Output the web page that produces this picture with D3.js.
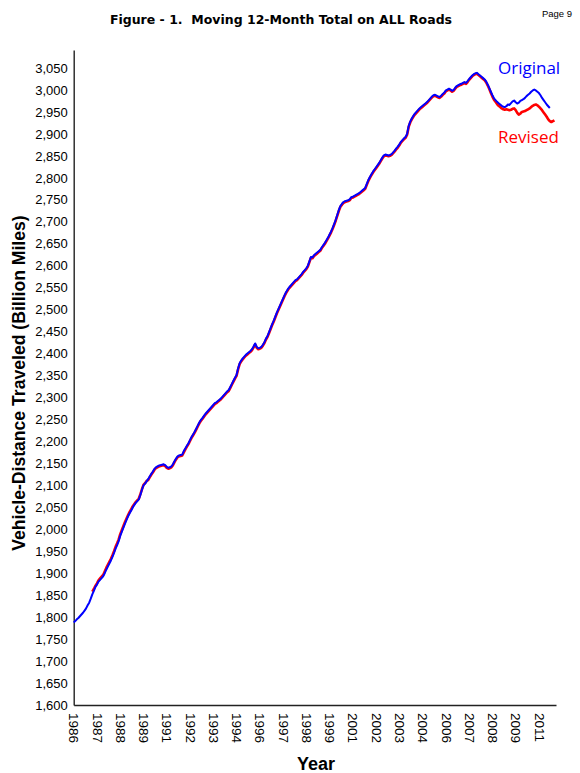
<!DOCTYPE html>
<html lang="en">
<head>
<meta charset="UTF-8">
<title>Figure - 1. Moving 12-Month Total on ALL Roads</title>
<script src="https://d3js.org/d3.v7.min.js"></script>
<style>
  body { margin: 0; background: #fff; }
  svg { display: block; }
  .tick text { font-family: "Liberation Sans", Arial, sans-serif; fill: #000; }
  .domain { stroke: #222; stroke-width: 1.4px; }
</style>
</head>
<body>
<svg id="chart" width="580" height="773"></svg>
<script>
// monthly moving 12-month totals, billion miles, starting Jan 1986
const original = [
  1788, 1791, 1795, 1798, 1802, 1806, 1810, 1815, 1820, 1827, 1833, 1842, // 1986
  1852, 1860, 1869, 1874, 1881, 1885, 1889, 1893, 1900, 1908, 1915, 1922, // 1987
  1929, 1937, 1946, 1956, 1964, 1973, 1985, 1994, 2003, 2012, 2021, 2029, // 1988
  2036, 2042, 2049, 2055, 2060, 2064, 2068, 2078, 2090, 2100, 2104, 2109, // 1989
  2114, 2120, 2126, 2131, 2137, 2141, 2143, 2145, 2146, 2147, 2148, 2146, // 1990
  2142, 2140, 2141, 2143, 2148, 2155, 2161, 2166, 2168, 2169, 2170, 2178, // 1991
  2184, 2190, 2196, 2203, 2210, 2216, 2222, 2229, 2236, 2243, 2249, 2253, // 1992
  2258, 2263, 2267, 2271, 2275, 2279, 2283, 2287, 2289, 2292, 2295, 2298, // 1993
  2302, 2306, 2310, 2314, 2317, 2324, 2331, 2338, 2345, 2351, 2366, 2378, // 1994
  2384, 2389, 2393, 2397, 2400, 2403, 2406, 2410, 2416, 2423, 2415, 2412, // 1995
  2413, 2415, 2420, 2426, 2434, 2440, 2449, 2458, 2467, 2475, 2484, 2493, // 1996
  2501, 2509, 2517, 2525, 2533, 2540, 2546, 2551, 2555, 2559, 2563, 2567, // 1997
  2569, 2573, 2577, 2581, 2586, 2590, 2594, 2600, 2610, 2620, 2619, 2624, // 1998
  2627, 2630, 2633, 2636, 2642, 2647, 2652, 2658, 2664, 2671, 2678, 2686, // 1999
  2695, 2705, 2716, 2727, 2736, 2741, 2745, 2747, 2748, 2749, 2751, 2756, // 2000
  2757, 2759, 2761, 2763, 2765, 2768, 2771, 2774, 2777, 2786, 2795, 2802, // 2001
  2808, 2814, 2819, 2824, 2829, 2834, 2840, 2846, 2851, 2853, 2852, 2851, // 2002
  2852, 2854, 2858, 2862, 2867, 2871, 2876, 2882, 2886, 2890, 2893, 2900, // 2003
  2918, 2928, 2935, 2941, 2946, 2950, 2954, 2958, 2961, 2964, 2967, 2970, // 2004
  2973, 2977, 2981, 2985, 2988, 2989, 2987, 2985, 2984, 2987, 2991, 2994, // 2005
  2999, 3001, 3003, 3001, 2998, 3000, 3005, 3009, 3011, 3013, 3014, 3016, // 2006
  3018, 3016, 3020, 3025, 3029, 3033, 3036, 3038, 3039, 3036, 3033, 3030, // 2007
  3027, 3024, 3019, 3012, 3004, 2996, 2988, 2981, 2977, 2973, 2970, 2967, // 2008
  2964, 2962, 2961, 2963, 2967, 2966, 2970, 2974, 2976, 2972, 2969, 2971, // 2009
  2975, 2977, 2979, 2982, 2986, 2989, 2992, 2996, 2999, 3001, 2999, 2996, // 2010
  2993, 2988, 2982, 2977, 2972, 2967, 2963, 2959                          // 2011
];

// revised series starts Jan 1987 (month index 12)
const revisedStart = 12;
const revised = [
  1858, 1864, 1871, 1877, 1884, 1888, 1892, 1896, 1904, 1912, 1919, 1926, // 1987
  1933, 1941, 1950, 1960, 1968, 1977, 1989, 1998, 2007, 2016, 2024, 2032, // 1988
  2039, 2045, 2052, 2057, 2062, 2066, 2070, 2080, 2091, 2101, 2105, 2110, // 1989
  2112, 2118, 2124, 2129, 2135, 2139, 2141, 2143, 2144, 2145, 2146, 2144, // 1990
  2140, 2138, 2139, 2141, 2146, 2153, 2159, 2164, 2166, 2167, 2168, 2175, // 1991
  2182, 2188, 2194, 2201, 2208, 2214, 2220, 2227, 2234, 2241, 2247, 2251, // 1992
  2256, 2261, 2265, 2269, 2273, 2277, 2281, 2285, 2287, 2290, 2293, 2296, // 1993
  2300, 2304, 2308, 2312, 2315, 2322, 2329, 2336, 2343, 2349, 2364, 2376, // 1994
  2382, 2387, 2391, 2395, 2398, 2401, 2404, 2408, 2414, 2421, 2413, 2410, // 1995
  2411, 2413, 2418, 2424, 2432, 2438, 2447, 2456, 2465, 2473, 2482, 2491, // 1996
  2499, 2507, 2515, 2523, 2531, 2538, 2544, 2549, 2553, 2557, 2561, 2565, // 1997
  2567, 2571, 2575, 2579, 2584, 2588, 2592, 2598, 2608, 2618, 2617, 2622, // 1998
  2625, 2628, 2631, 2634, 2640, 2645, 2650, 2656, 2662, 2669, 2676, 2684, // 1999
  2693, 2703, 2714, 2725, 2734, 2739, 2743, 2745, 2746, 2747, 2749, 2754, // 2000
  2755, 2757, 2759, 2761, 2763, 2766, 2769, 2772, 2775, 2784, 2793, 2800, // 2001
  2806, 2812, 2817, 2822, 2827, 2832, 2838, 2844, 2849, 2851, 2850, 2849, // 2002
  2850, 2852, 2856, 2860, 2865, 2869, 2874, 2880, 2884, 2888, 2891, 2898, // 2003
  2916, 2926, 2933, 2939, 2944, 2948, 2952, 2956, 2959, 2962, 2965, 2968, // 2004
  2971, 2975, 2979, 2983, 2986, 2987, 2985, 2983, 2982, 2985, 2989, 2992, // 2005
  2997, 2999, 3001, 2999, 2996, 2998, 3003, 3007, 3009, 3011, 3012, 3014, // 2006
  3016, 3014, 3018, 3023, 3027, 3031, 3034, 3036, 3037, 3034, 3031, 3028, // 2007
  3025, 3022, 3017, 3010, 3002, 2993, 2985, 2978, 2973, 2968, 2964, 2961, // 2008
  2958, 2956, 2955, 2956, 2955, 2954, 2955, 2957, 2958, 2954, 2948, 2944, // 2009
  2946, 2950, 2951, 2952, 2954, 2956, 2958, 2961, 2964, 2966, 2967, 2965, // 2010
  2962, 2958, 2954, 2949, 2944, 2939, 2933, 2929, 2927, 2929, 2931        // 2011
];

// category labels are shown every 15 months
const xTickMonths = [0, 15, 30, 45, 60, 75, 90, 105, 120, 135, 150, 165, 180, 195, 210, 225, 240, 255, 270, 285, 300];
const xTickLabels = ["1986", "1987", "1988", "1989", "1991", "1992", "1993", "1994", "1996", "1997",
                     "1998", "1999", "2001", "2002", "2003", "2004", "2006", "2007", "2008", "2009", "2011"];
const yTicks = d3.range(1600, 3051, 50);

const svg = d3.select("#chart");

const x = d3.scaleLinear().domain([0, 311]).range([73.7, 556]);
const y = d3.scaleLinear().domain([1600, 3091]).range([705, 50]);

// title + page number
svg.append("text")
  .attr("x", 281).attr("y", 24)
  .attr("text-anchor", "middle")
  .style("font-family", "'DejaVu Sans', Verdana, sans-serif")
  .style("font-weight", "bold")
  .style("font-size", "12.5px")
  .style("white-space", "pre")
  .text("Figure - 1.  Moving 12-Month Total on ALL Roads");

svg.append("text")
  .attr("x", 572).attr("y", 17)
  .attr("text-anchor", "end")
  .style("font-family", "'Liberation Sans', Arial, sans-serif")
  .style("font-size", "9.5px")
  .text("Page 9");

// axes
const yAxis = svg.append("g")
  .attr("transform", `translate(${x(0)},0)`)
  .call(d3.axisLeft(y).tickValues(yTicks).tickSize(0).tickSizeOuter(0).tickPadding(6).tickFormat(d3.format(",")));
yAxis.selectAll(".tick text").style("font-size", "13px");

const xAxis = svg.append("g")
  .attr("transform", `translate(0,${y(1600)})`)
  .call(d3.axisBottom(x).tickValues(xTickMonths).tickSize(0).tickSizeOuter(0)
    .tickFormat((d, i) => xTickLabels[i]));
xAxis.selectAll(".tick text")
  .style("font-size", "13.5px")
  .attr("transform", "rotate(90)")
  .attr("text-anchor", "start")
  .attr("x", 8).attr("y", 0)
  .attr("dy", "0.36em");

// axis titles
svg.append("text")
  .attr("transform", "translate(25,383) rotate(-90)")
  .attr("text-anchor", "middle")
  .style("font-family", "'Liberation Sans', Arial, sans-serif")
  .style("font-weight", "bold")
  .style("font-size", "17.6px")
  .text("Vehicle-Distance Traveled (Billion Miles)");

svg.append("text")
  .attr("x", 316).attr("y", 770)
  .attr("text-anchor", "middle")
  .style("font-family", "'Liberation Sans', Arial, sans-serif")
  .style("font-weight", "bold")
  .style("font-size", "18px")
  .text("Year");

// lines: revised underneath, original on top
const line = d3.line().x(d => x(d[0])).y(d => y(d[1]));

svg.append("path")
  .datum(revised.map((v, i) => [i + revisedStart, v]))
  .attr("fill", "none")
  .attr("stroke", "#ff0000")
  .attr("stroke-width", 2.6)
  .attr("stroke-linejoin", "round")
  .attr("d", line);

svg.append("path")
  .datum(original.map((v, i) => [i, v]))
  .attr("fill", "none")
  .attr("stroke", "#0000ff")
  .attr("stroke-width", 2)
  .attr("stroke-linejoin", "round")
  .attr("d", line);

// series labels
svg.append("text")
  .attr("x", 498).attr("y", 74)
  .style("font-family", "'Open Sans', sans-serif")
  .style("font-size", "17px")
  .attr("fill", "#0000ff")
  .text("Original");

svg.append("text")
  .attr("x", 498).attr("y", 143)
  .style("font-family", "'Open Sans', sans-serif")
  .style("font-size", "17px")
  .attr("fill", "#ff0000")
  .text("Revised");
</script>
</body>
</html>
